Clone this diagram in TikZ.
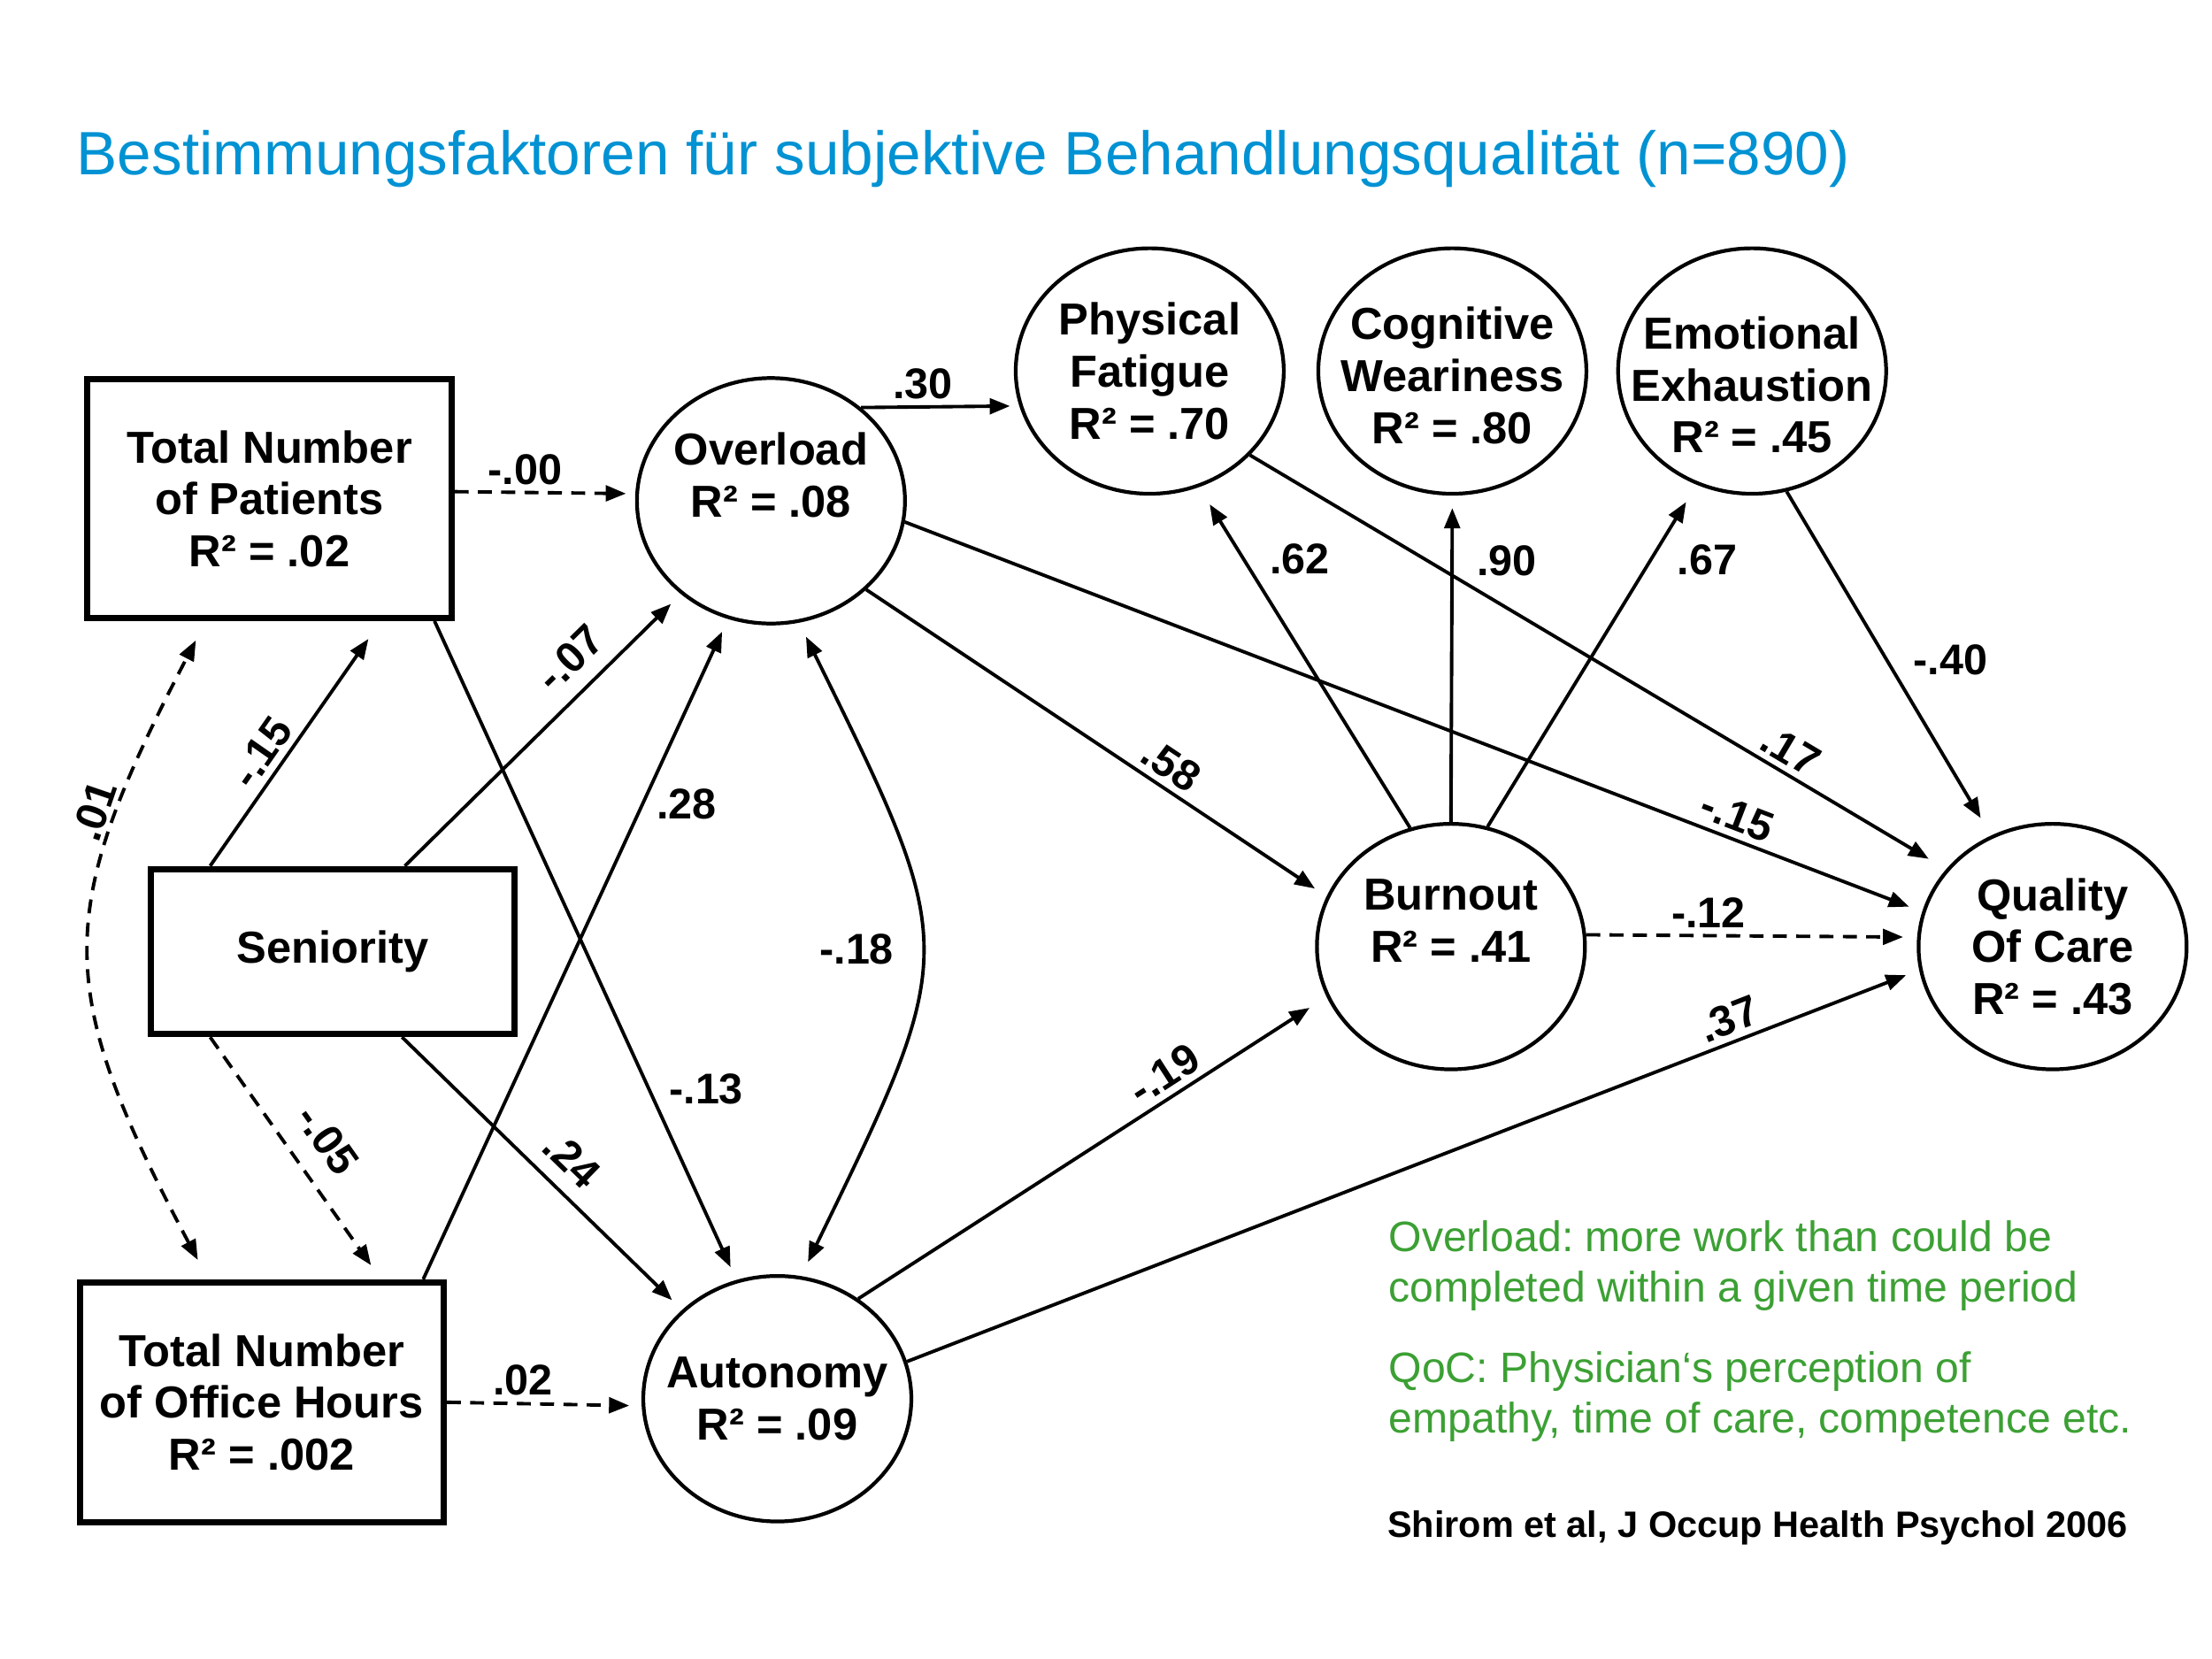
\documentclass[tikz,border=0pt]{standalone}
\usepackage{fontspec}
\setmainfont{Liberation Sans}
\usetikzlibrary{arrows.meta,shapes.geometric,calc}
\frenchspacing

\definecolor{titleblue}{RGB}{0,146,211}
\definecolor{notegreen}{RGB}{60,160,52}
\newcommand{\dpx}{0.1594mm}
\newcommand{\nodefont}{\fontsize{14.4}{16.7}\selectfont\bfseries}
\newcommand{\lblfont}{\fontsize{13.8}{16}\selectfont\bfseries}

\tikzset{
  manifest/.style={draw, line width=2pt, minimum width=258*\dpx, align=center, font=\nodefont},
  latent/.style={draw, ellipse, line width=1.2pt, minimum width=190*\dpx, minimum height=174*\dpx, inner sep=0pt},
  lattext/.style={font=\nodefont, align=center, inner sep=0pt},
  link/.style={-{Triangle[length=6.5pt,width=5pt]}, line width=1.1pt, shorten >=4.5pt},
  weak/.style={link, dash pattern=on 4.5pt off 3pt},
  cov/.style={{Triangle[length=6.5pt,width=5pt]}-{Triangle[length=6.5pt,width=5pt]}, line width=1.1pt, shorten >=5pt, shorten <=5pt},
  lbl/.style={font=\lblfont, inner sep=2pt}
}

\begin{document}
\begin{tikzpicture}[x=\dpx, y=-\dpx]
\useasboundingbox (0,0) rectangle (1568,1176);

\node[anchor=base west, inner sep=0pt, font=\fontsize{19.7}{23}\selectfont, text=titleblue] (title) at (54,124) {Bestimmungsfaktoren für subjektive Behandlungsqualität (n=890)};

% observed variables
\node[manifest, minimum height=169*\dpx] (pat) at (191,353.5) {Total Number\\of Patients\\R² = .02};
\node[manifest, minimum height=117*\dpx] (sen) at (236,674.5) {Seniority};
\node[manifest, minimum height=170*\dpx] (off) at (185.5,994) {Total Number\\of Office Hours\\R² = .002};

% latent variables
\node[latent, label={[lattext]center:{Overload\\R² = .08\\\mbox{}}}] (ovl) at (546.5,355) {};
\node[latent, label={[lattext]center:{Physical\\Fatigue\\R² = .70}}] (pf) at (815,263) {};
\node[latent, label={[lattext, yshift=-1.5pt]center:{Cognitive\\Weariness\\R² = .80}}] (cw) at (1029.5,263) {};
\node[latent, label={[lattext, yshift=-4.5pt]center:{Emotional\\Exhaustion\\R² = .45}}] (ee) at (1242,263) {};
\node[latent, label={[lattext]center:{Burnout\\R² = .41\\\mbox{}}}] (bur) at (1028.5,671) {};
\node[latent, label={[lattext]center:{Quality\\Of Care\\R² = .43}}] (qoc) at (1455,671) {};
\node[latent, label={[lattext]center:{Autonomy\\R² = .09}}] (aut) at (551,991.5) {};

% paths
\draw[weak, shorten >=3pt] ($(pat.east)+(0,-5)$) -- node[lbl, pos=.39, above] (w1) {-.00} (ovl.177);
\draw[link, shorten >=3pt] (ovl.46) -- node[lbl, pos=.39, above] (w2) {.30} (pf.195);
\draw[link, shorten >=7pt] ($(sen.north)+(-87,0)$) -- node[lbl, pos=.41, sloped, above] (w3) {-.15} ($(pat.south)+(79,0)$);
\draw[cov, dash pattern=on 4.5pt off 3pt, shorten >=7pt, shorten <=7pt] ($(off.north)+(-38,0)$)
  .. controls +(-110,-207) and +(-108,207) .. node[lbl, pos=.73, sloped, above] (w4) {.01} ($(pat.south)+(-45,0)$);
\draw[link] ($(sen.north)+(51,0)$) -- node[lbl, pos=.68, sloped, above=3pt] (w5) {-.07} (ovl.226);
\draw[link] ($(off.north)+(114.5,0)$) -- node[lbl, pos=.72, right=2pt] (w6) {.28} (ovl.250);
\draw[link] ($(pat.south)+(117,0)$) -- node[lbl, pos=.71, right=4pt] (w7) {-.13} (aut.109);
\draw[cov] (ovl.283) .. controls +(114,231) and +(113,-232) .. node[lbl, pos=.5, left=6pt] (w8) {-.18} (aut.79);
\draw[link] ($(sen.south)+(49,0)$) -- node[lbl, pos=.53, sloped, above=2.5pt] (w9) {.24} (aut.137);
\draw[weak, shorten >=5.5pt] ($(sen.south)+(-87,0)$) -- node[lbl, pos=.51, sloped, above=4.5pt] (w10) {-.05} ($(off.north)+(84.5,0)$);
\draw[weak, shorten >=4pt] (off.east) -- node[lbl, pos=.39, above] (w11) {.02} (aut.183);
\draw[link] (ovl.-43) -- node[lbl, pos=.635, sloped, above] (w12) {.58} (bur.158);
\draw[link] (ovl.-9) -- node[lbl, pos=.81, sloped, above] (w13) {-.15} (qoc.165);
\draw[link, shorten >=6.5pt] (pf.-40) -- node[lbl, pos=.76, sloped, above] (w14) {.17} (qoc.144);
\draw[link, shorten >=6.5pt] (ee.-74) -- node[lbl, pos=.49, right=6pt] (w15) {-.40} (qoc.119);
\draw[link, shorten >=6.5pt] (bur.109) -- node[lbl, pos=.79, right=6pt] (w16) {.62} (pf.-67);
\draw[link, shorten >=4pt] (bur.north) -- node[lbl, pos=.8, right=5.5pt] (w17) {.90} (cw.south);
\draw[link, shorten >=6.5pt] (bur.73) -- node[lbl, pos=.78, right=6pt] (w18) {.67} (ee.-116);
\draw[weak] (bur.5) -- node[lbl, pos=.37, above] (w19) {-.12} (qoc.176);
\draw[link, shorten >=6.5pt] (aut.51) -- node[lbl, pos=.68, sloped, above] (w20) {-.19} (bur.-158);
\draw[link] (aut.16) -- node[lbl, pos=.82, sloped, above] (w21) {.37} (qoc.190);

% notes
\node[anchor=base west, inner sep=0pt, align=left, font=\fontsize{13.7}{16.3}\selectfont, text=notegreen] (note-ovl) at (984,923) {Overload: more work than could be\\completed within a given time period};
\node[anchor=base west, inner sep=0pt, align=left, font=\fontsize{13.7}{16.3}\selectfont, text=notegreen] (note-qoc) at (984,1016) {QoC: Physician‘s perception of\\empathy, time of care, competence etc.};
\node[anchor=base west, inner sep=0pt, font=\fontsize{11.8}{14}\selectfont\bfseries] (cite) at (983,1090) {Shirom et al, J Occup Health Psychol 2006};

\end{tikzpicture}
\end{document}
